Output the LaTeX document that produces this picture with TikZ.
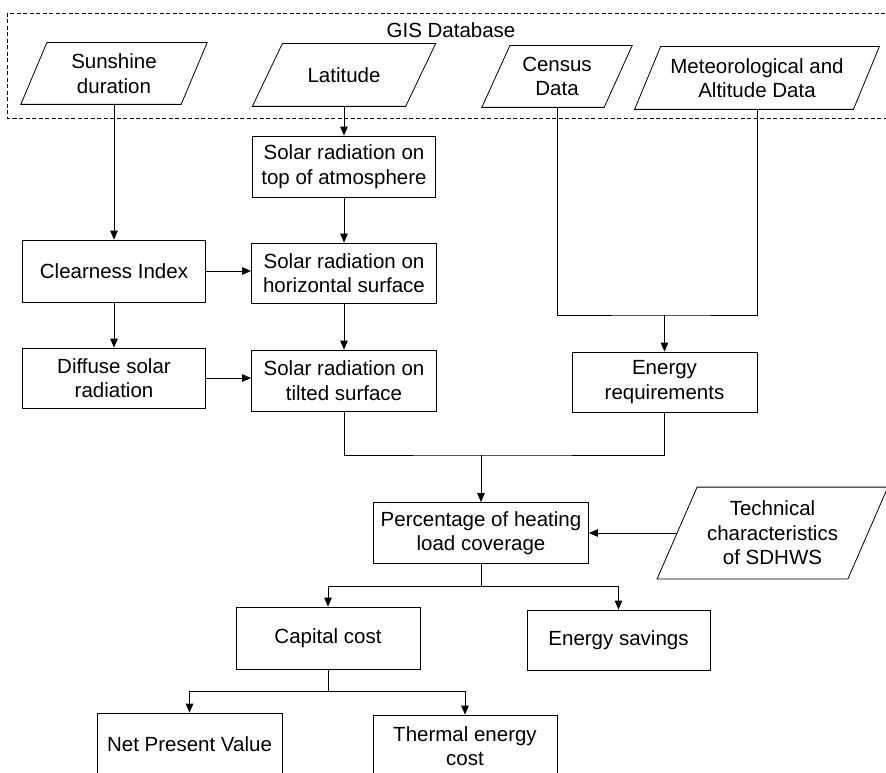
\documentclass[tikz,border=0pt]{standalone}
\usepackage{fontspec}
\setmainfont{Liberation Sans}
\usetikzlibrary{arrows.meta,calc}
\newcommand\diagfont{\fontsize{20.5}{24.5}\selectfont}
\begin{document}
\begin{tikzpicture}[x=1pt,y=-1pt, line width=0.8pt,
  box/.style={draw, rectangle, inner sep=0pt, align=center, font=\diagfont},
  io/.style={rectangle, inner sep=0pt, align=center, font=\diagfont},
  arr/.style={-{Triangle[length=9pt,width=7.5pt]}},
  gisframe/.style={dash pattern=on 4pt off 2.5pt, line width=0.7pt}]
\useasboundingbox (0,0) rectangle (886,773);
\clip (0,0) rectangle (886,773);
% GIS database frame
\draw[gisframe] (7,13) rectangle (900,118);
\node[io] (gis) at (451,30) {GIS Database};
% input parallelograms
\node[io, minimum width=159.5pt, minimum height=61pt] (sun) at (114,73.5) {Sunshine\\duration};
\node[io, minimum width=152.5pt, minimum height=62pt] (lat) at (344,75) {Latitude};
\node[io, minimum width=121.5pt, minimum height=61pt] (cen) at (557,76.5) {Census\\Data};
\node[io, minimum width=218pt, minimum height=62pt] (met) at (757,78) {Meteorological and\\Altitude Data};
\node[io, minimum width=190pt, minimum height=91pt] (tech) at (772.5,533) {Technical\\characteristics\\of SDHWS};
\foreach \n/\s in {sun/13,lat/15,cen/14,met/13,tech/20}
  \draw ($(\n.south west)+(-\s,0)$) -- ($(\n.south east)+(-\s,0)$) -- ($(\n.north east)+(\s,0)$) -- ($(\n.north west)+(\s,0)$) -- cycle;
% process boxes
\node[box, minimum width=183pt, minimum height=61pt] (top) at (344,166.5) {Solar radiation on\\top of atmosphere};
\node[box, minimum width=183pt, minimum height=62pt] (clear) at (114,271) {Clearness Index};
\node[box, minimum width=185pt, minimum height=60pt] (horiz) at (344,273) {Solar radiation on\\horizontal surface};
\node[box, minimum width=183pt, minimum height=60pt] (diff) at (114,378) {Diffuse solar\\radiation};
\node[box, minimum width=185pt, minimum height=61pt] (tilt) at (344,380.5) {Solar radiation on\\tilted surface};
\node[box, minimum width=185pt, minimum height=60pt] (er) at (664.5,382) {Energy\\requirements};
\node[box, minimum width=215pt, minimum height=61pt] (perc) at (481,533) {Percentage of heating\\load coverage};
\node[box, minimum width=184pt, minimum height=62pt] (cap) at (328,638) {Capital cost};
\node[box, minimum width=183pt, minimum height=60pt] (sav) at (618.5,640) {Energy savings};
\node[box, minimum width=185pt, minimum height=62pt] (npv) at (189.5,744) {Net Present Value};
\node[box, minimum width=184pt, minimum height=62pt] (therm) at (465,746) {Thermal energy\\cost};
% connectors
\draw[arr] (sun.south) -- (clear.north);
\draw[arr] (lat.south) -- (top.north);
\draw[arr] (top.south) -- (horiz.north);
\draw[arr] (horiz.south) -- (tilt.north);
\draw[arr] (clear.east) -- (clear.east -| horiz.west);
\draw[arr] (clear.south) -- (diff.north);
\draw[arr] (diff.east) -- (diff.east -| tilt.west);
\coordinate (j1) at (664.5,315);
\draw (cen.south) |- (j1) -| (met.south);
\draw[arr] (j1) -- (er.north);
\coordinate (j2) at (481,455);
\draw (tilt.south) |- (j2) -| (er.south);
\draw[arr] (j2) -- (perc.north);
\draw[arr] (tech.west) -- (perc.east);
\coordinate (j3) at (481,586);
\draw (perc.south) -- (j3);
\draw[arr] (j3) -| (cap.north);
\draw[arr] (j3) -| (sav.north);
\coordinate (j4) at (328,691);
\draw (cap.south) -- (j4);
\draw[arr] (j4) -| (npv.north);
\draw[arr] (j4) -| (therm.north);
\end{tikzpicture}
\end{document}
